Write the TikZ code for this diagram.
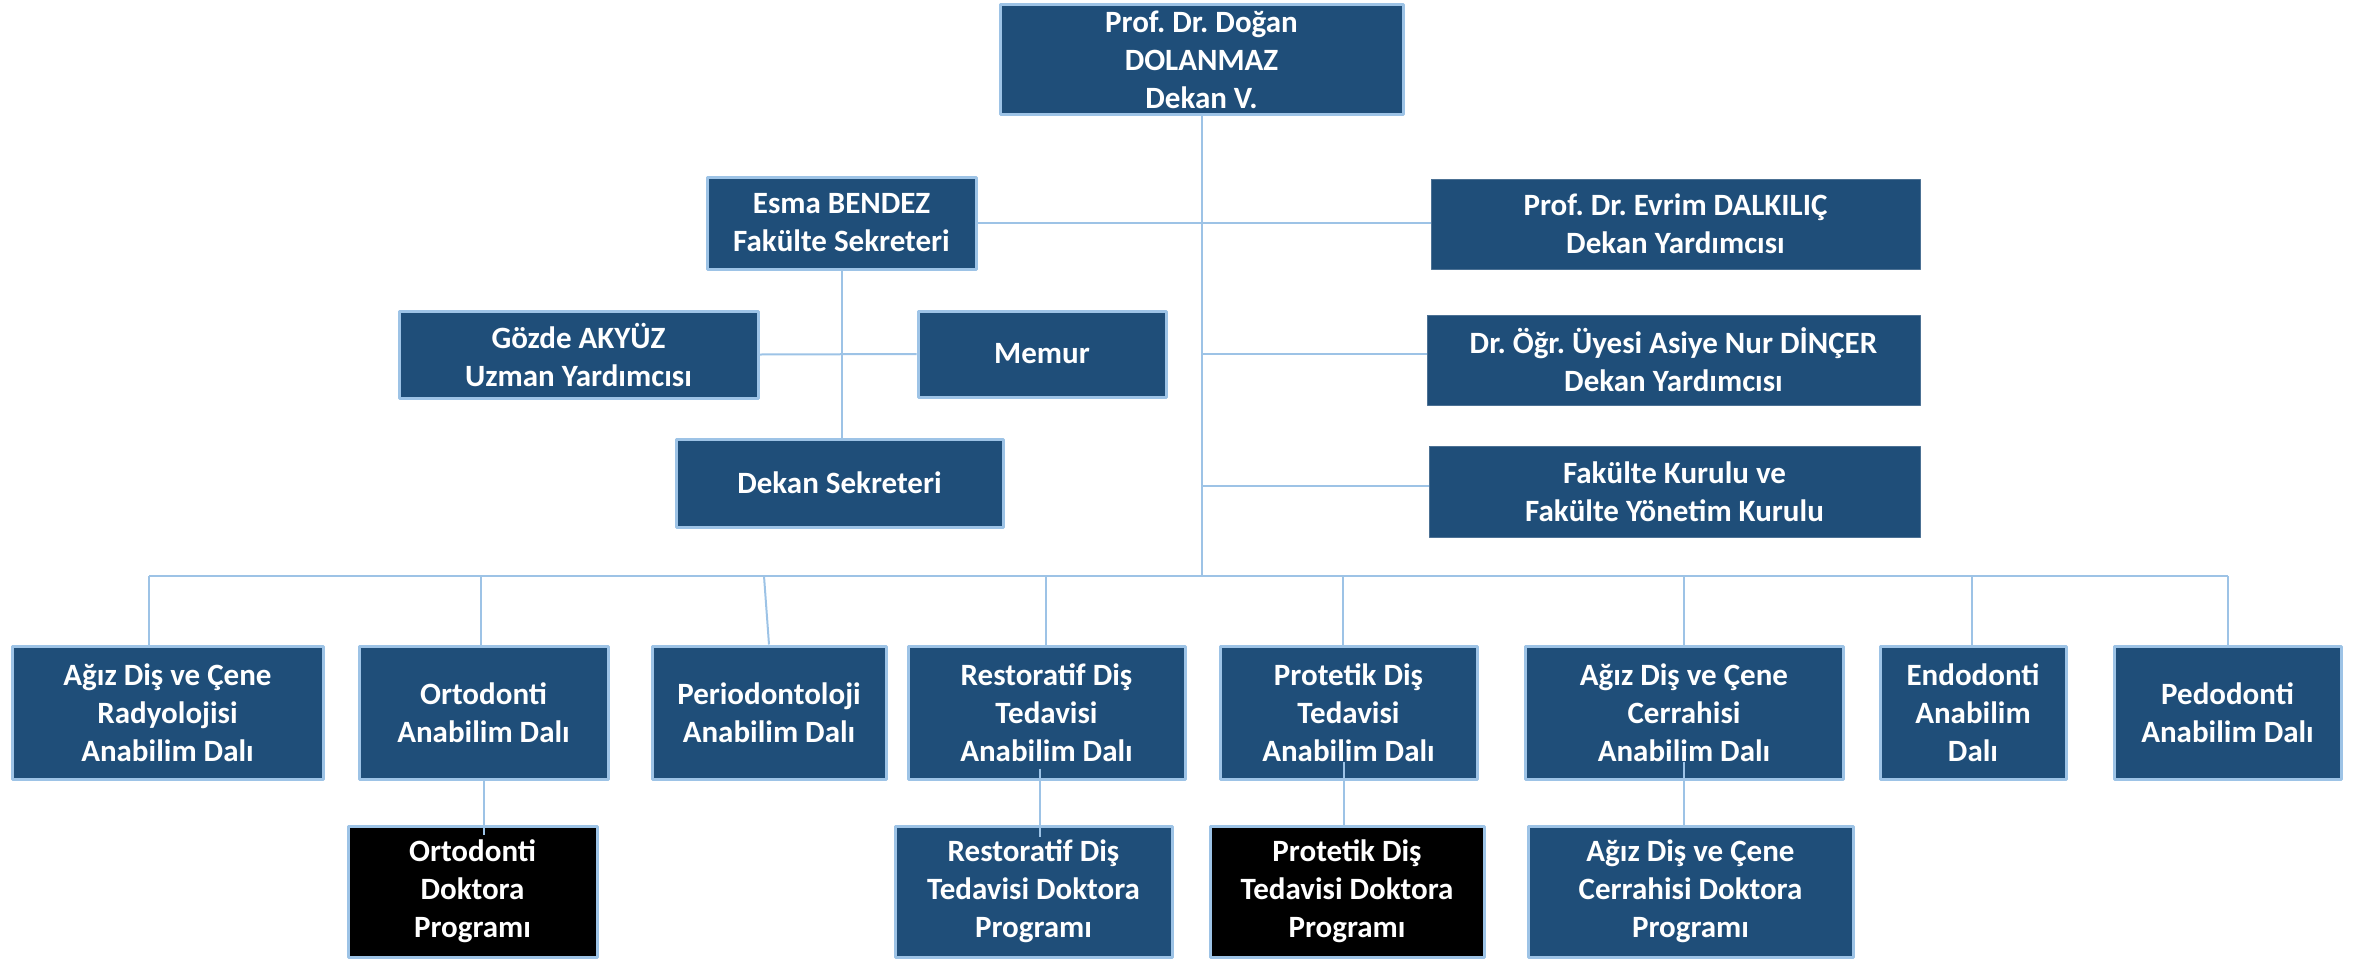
\documentclass[tikz,border=0pt]{standalone}
\usepackage{fontspec}
\setmainfont{Carlito}
\frenchspacing
\definecolor{boxblue}{HTML}{1F4E79}
\definecolor{edgeblue}{HTML}{9DC3E6}
\begin{document}
\begin{tikzpicture}[x=1pt,y=-1pt,line join=round,
		unit/.style={fill=boxblue,draw=edgeblue,line width=3pt,text=white,align=center,inner sep=0pt,
			font=\fontsize{31}{38}\selectfont\bfseries},
		vice/.style={unit,draw=boxblue!80!white,line width=1pt},
		prog/.style={unit,fill=black},
		link/.style={draw=edgeblue,line width=2pt}]
	\useasboundingbox (0,0) rectangle (2359,959);
	% dekanlik
	\node[unit,minimum width=403,minimum height=110] (dekan) at (1201.5,59.5) {Prof. Dr. Doğan\\DOLANMAZ\\Dekan V.};
	\node[unit,minimum width=269,minimum height=92] (esma) at (841.5,223) {Esma BENDEZ\\Fakülte Sekreteri};
	\node[vice,minimum width=489,minimum height=90] (evrim) at (1675.5,224) {Prof. Dr. Evrim DALKILIÇ\\Dekan Yardımcısı};
	\node[unit,minimum width=359,minimum height=87] (gozde) at (578.5,354.5) {Gözde AKYÜZ\\Uzman Yardımcısı};
	\node[unit,minimum width=248,minimum height=86] (memur) at (1042,354) {Memur};
	\node[vice,minimum width=493,minimum height=90] (asiye) at (1673.5,360) {Dr. Öğr. Üyesi Asiye Nur DİNÇER\\Dekan Yardımcısı};
	\node[unit,minimum width=327,minimum height=88] (dsek) at (839.5,483) {Dekan Sekreteri};
	\node[vice,minimum width=491,minimum height=91] (kurul) at (1674.5,491.5) {Fakülte Kurulu ve\\Fakülte Yönetim Kurulu};
	% anabilim dallari
	\node[unit,minimum width=311,minimum height=133] (rad) at (167.5,712.5) {Ağız Diş ve Çene\\Radyolojisi\\Anabilim Dalı};
	\node[unit,minimum width=249,minimum height=133] (orto) at (483.5,712.5) {Ortodonti\\Anabilim Dalı};
	\node[unit,minimum width=234,minimum height=133] (perio) at (769,712.5) {Periodontoloji\\Anabilim Dalı};
	\node[unit,minimum width=277,minimum height=133] (resto) at (1046.5,712.5) {Restoratif Diş\\Tedavisi\\Anabilim Dalı};
	\node[unit,minimum width=257,minimum height=133] (prot) at (1348.5,712.5) {Protetik Diş\\Tedavisi\\Anabilim Dalı};
	\node[unit,minimum width=318,minimum height=133] (cerr) at (1684,712.5) {Ağız Diş ve Çene\\Cerrahisi\\Anabilim Dalı};
	\node[unit,minimum width=186,minimum height=133] (endo) at (1973,712.5) {Endodonti\\Anabilim\\Dalı};
	\node[unit,minimum width=227,minimum height=133] (pedo) at (2227.5,712.5) {Pedodonti\\Anabilim Dalı};
	% doktora programlari
	\node[prog,minimum width=249,minimum height=131] (ortodr) at (472.5,891.5) {Ortodonti\\Doktora\\Programı};
	\node[unit,minimum width=277,minimum height=131] (restodr) at (1033.5,891.5) {Restoratif Diş\\Tedavisi Doktora\\Programı};
	\node[prog,minimum width=274,minimum height=131] (protdr) at (1347,891.5) {Protetik Diş\\Tedavisi Doktora\\Programı};
	\node[unit,minimum width=325,minimum height=131] (cerrdr) at (1690.5,891.5) {Ağız Diş ve Çene\\Cerrahisi Doktora\\Programı};
	\path
	(1201.5,354) coordinate (t2)
	(1201.5,486) coordinate (t3)
	(149,576) coordinate (d1) (481,576) coordinate (d2)
	(764,576) coordinate (d3) (1046,576) coordinate (d4)
	(1343,576) coordinate (d5) (1684,576) coordinate (d6)
	(1972,576) coordinate (d7) (2228,576) coordinate (d8);
	\draw[link] (dekan.south) -- (dekan.south |- d1);
	\draw[link] (esma.east) -- (esma.east -| evrim.west);
	\draw[link] (t2) -- (t2 -| asiye.west);
	\draw[link] (t3) -- (t3 -| kurul.west);
	\draw[link] (esma.south) -- (esma.south |- dsek.north);
	\draw[link] (gozde.east) -- (memur.west);
	\draw[link] (d1) -- (d8);
	\draw[link] (d1) -- (d1 |- rad.north);
	\draw[link] (d2) -- (d2 |- orto.north);
	\draw[link] (d3) -- (perio.north);
	\draw[link] (d4) -- (d4 |- resto.north);
	\draw[link] (d5) -- (d5 |- prot.north);
	\draw[link] (d6) -- (d6 |- cerr.north);
	\draw[link] (d7) -- (d7 |- endo.north);
	\draw[link] (d8) -- (d8 |- pedo.north);
	\draw[link] (orto.south) -- (orto.south |- ortodr.north) -- ++(0,10);
	\draw[link] (resto.south) ++(-7,-12) coordinate (r4) -- (r4 |- restodr.north) -- ++(0,12);
	\draw[link] (prot.south) ++(-5,-19) coordinate (r5) -- (r5 |- protdr.north);
	\draw[link] (cerr.south) ++(0,-19) coordinate (r6) -- (r6 |- cerrdr.north);
\end{tikzpicture}
\end{document}
